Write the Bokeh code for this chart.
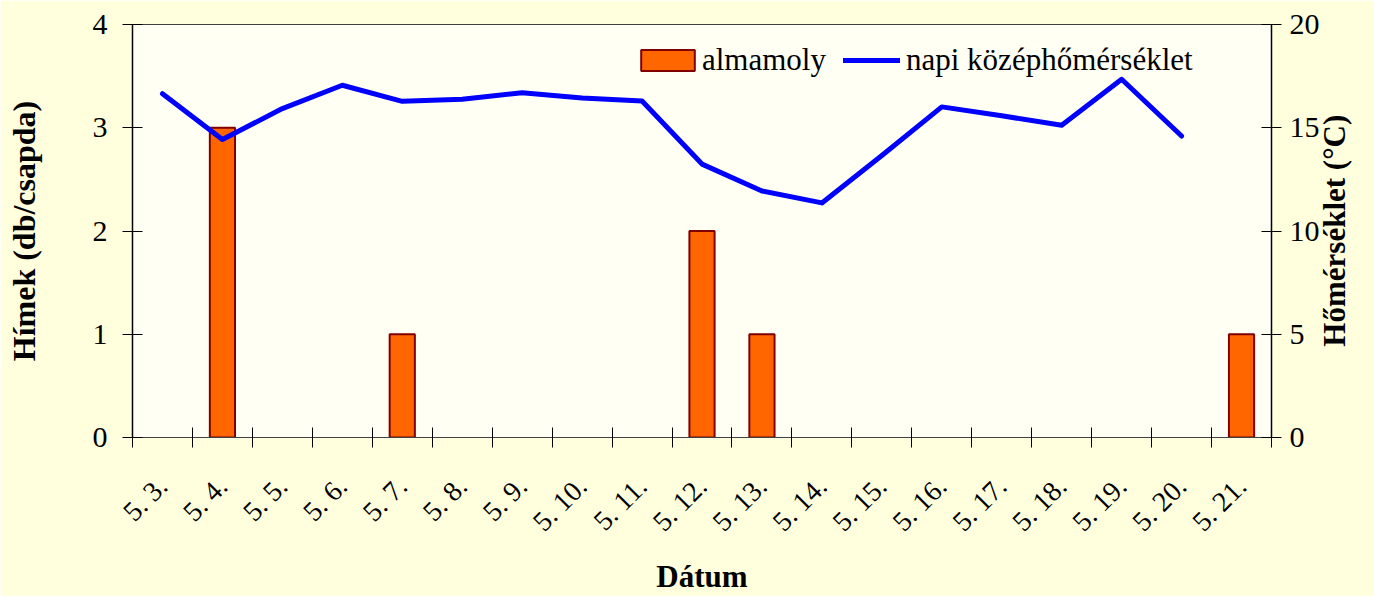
import math
from bokeh.plotting import figure
from bokeh.models import (Range1d, LinearAxis, FixedTicker, CustomJSTickFormatter,
                          Legend, LegendItem, ColumnDataSource)
from bokeh.embed import file_html
from bokeh.resources import INLINE

# ---- data ----
dates = ["5. 3.", "5. 4.", "5. 5.", "5. 6.", "5. 7.", "5. 8.", "5. 9.", "5. 10.",
         "5. 11.", "5. 12.", "5. 13.", "5. 14.", "5. 15.", "5. 16.", "5. 17.",
         "5. 18.", "5. 19.", "5. 20.", "5. 21."]
almamoly = [0, 3, 0, 0, 1, 0, 0, 0, 0, 2, 1, 0, 0, 0, 0, 0, 0, 0, 1]
homerseklet = [16.65, 14.43, 15.93, 17.06, 16.28, 16.38, 16.70, 16.44, 16.30,
               13.24, 11.94, 11.36, 13.66, 16.01, 15.58, 15.12, 17.35, 14.60, float("nan")]
left_ticks = [0, 1, 2, 3, 4]
right_ticks = [0, 5, 10, 15, 20]

FONT = "Liberation Serif"
RIGHT_TITLE = "Hőmérséklet (°C)"
RIGHT_TITLE_START = 4.4   # where the bottom-to-top right title starts (°C scale)

xs = [i + 0.5 for i in range(len(dates))]
bar_src = ColumnDataSource(dict(
    x=[x for x, v in zip(xs, almamoly) if v > 0],
    top=[v for v in almamoly if v > 0]))
line_src = ColumnDataSource(dict(
    x=[x for x, t in zip(xs, homerseklet) if not math.isnan(t)],
    y=[t for t in homerseklet if not math.isnan(t)]))

p = figure(width=1374, height=596, output_backend="svg", toolbar_location=None,
           x_range=Range1d(0, len(dates)), y_range=Range1d(0, 4),
           min_border_left=132, min_border_right=103, min_border_top=24, min_border_bottom=158,
           x_axis_type=None, y_axis_type=None)
p.extra_y_ranges = {"temp": Range1d(0, 20)}
p.background_fill_color = "#FFFFF4"
p.border_fill_color = "#FFFFDE"
p.outline_line_color = "#404040"
p.outline_line_width = 1

# x axis
xaxis = LinearAxis(ticker=FixedTicker(ticks=xs, minor_ticks=list(range(len(dates) + 1))),
                   formatter=CustomJSTickFormatter(args=dict(labels=dates),
                                                   code="return labels[Math.round(tick - 0.5)];"))
xaxis.major_tick_in = 0
xaxis.major_tick_out = 0
xaxis.minor_tick_in = 10
xaxis.minor_tick_out = 10
xaxis.minor_tick_line_color = "black"
xaxis.minor_tick_line_width = 1
xaxis.axis_line_color = "#404040"
xaxis.axis_line_width = 1
xaxis.major_label_orientation = math.pi / 4
xaxis.major_label_standoff = 34
xaxis.major_label_text_font = FONT
xaxis.major_label_text_font_size = "28px"
xaxis.major_label_text_color = "black"
xaxis.axis_label = "Dátum"
xaxis.axis_label_text_font = FONT
xaxis.axis_label_text_font_size = "31px"
xaxis.axis_label_text_font_style = "bold"
xaxis.axis_label_text_color = "black"
xaxis.axis_label_standoff = 8
p.add_layout(xaxis, "below")

# left axis
yaxis = LinearAxis(ticker=FixedTicker(ticks=left_ticks))
yaxis.axis_label = "Hímek (db/csapda)"
yaxis.axis_label_text_font_size = "32px"
yaxis.axis_label_text_font = FONT
yaxis.axis_label_text_font_style = "bold"
yaxis.axis_label_text_color = "black"
yaxis.axis_label_standoff = 48
p.add_layout(yaxis, "left")

# right axis
raxis = LinearAxis(y_range_name="temp", ticker=FixedTicker(ticks=right_ticks))
p.add_layout(raxis, "right")

for ax, st in ((yaxis, 15), (raxis, 8)):
    ax.major_tick_in = 10
    ax.major_tick_out = 10
    ax.minor_tick_line_color = None
    ax.major_tick_line_color = "black"
    ax.axis_line_color = "black"
    ax.axis_line_width = 1.5
    ax.major_label_standoff = st
    ax.major_label_text_font = FONT
    ax.major_label_text_font_size = "30px"
    ax.major_label_text_color = "black"

# right axis title, reading bottom to top as in the reference
# (drawn as the single, rotated tick label of a bare outer axis)
rtitle_axis = LinearAxis(y_range_name="temp", ticker=FixedTicker(ticks=[RIGHT_TITLE_START]),
                         formatter=CustomJSTickFormatter(args=dict(t=RIGHT_TITLE), code="return t;"))
rtitle_axis.axis_line_color = None
rtitle_axis.major_tick_line_color = None
rtitle_axis.minor_tick_line_color = None
rtitle_axis.major_tick_in = 0
rtitle_axis.major_tick_out = 0
rtitle_axis.major_label_orientation = math.pi / 2
rtitle_axis.major_label_standoff = 12
rtitle_axis.major_label_text_font = FONT
rtitle_axis.major_label_text_font_size = "31px"
rtitle_axis.major_label_text_font_style = "bold"
rtitle_axis.major_label_text_color = "black"
p.add_layout(rtitle_axis, "right")

p.ygrid.ticker = FixedTicker(ticks=left_ticks)
p.ygrid.grid_line_color = "#404040"
p.ygrid.grid_line_width = 1
p.xgrid.visible = False

bars = p.vbar(x="x", top="top", source=bar_src, width=0.42,
              fill_color="#FF6600", line_color="#800000", line_width=2)
line = p.line(x="x", y="y", source=line_src, y_range_name="temp",
              line_color="#0000FF", line_width=5, line_join="round", line_cap="round")

def mk_legend(label, rend, gw, gh, loc, standoff):
    lg = Legend(items=[LegendItem(label=label, renderers=[rend])], location=loc,
                orientation="horizontal", glyph_width=gw, glyph_height=gh,
                label_standoff=standoff, padding=0, margin=0, spacing=0,
                border_line_color=None, background_fill_alpha=0)
    lg.label_text_font = FONT
    lg.label_text_font_size = "31px"
    lg.label_text_color = "black"
    return lg

p.add_layout(mk_legend("almamoly", bars, 67, 26, (502, 359), 1))
p.add_layout(mk_legend("napi középhőmérséklet", line, 57, 26, (711, 359), 6))

open("out.html", "w").write(file_html(p, INLINE))
